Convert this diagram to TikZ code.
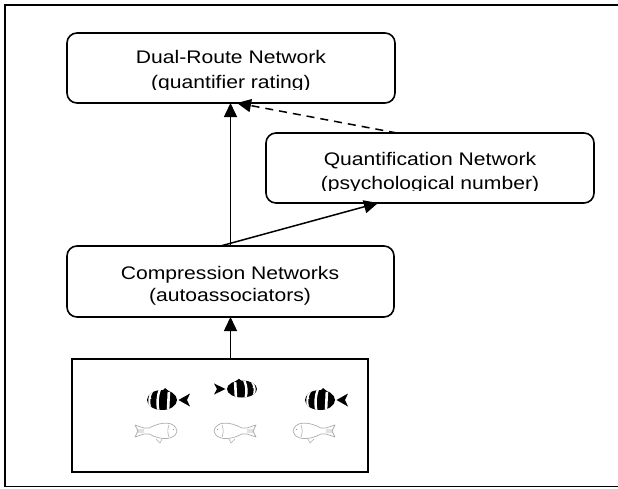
\documentclass[tikz,border=0pt]{standalone}
\usepackage{fontspec}
\setmainfont{Liberation Sans}[FakeStretch=1.16]
\usetikzlibrary{arrows.meta}

\tikzset{
  netbox/.style={draw, rounded corners=10pt, line width=1.6pt, inner sep=0pt, outer sep=0pt},
  stimbox/.style={draw, line width=1.6pt, inner sep=0pt, outer sep=0pt},
  netlabel/.style={anchor=base, inner sep=0pt, font=\fontsize{18.2}{24}\selectfont},
  flow/.style={line width=1.5pt, -{Triangle[length=14pt,width=13pt]}},
  feedback/.style={flow, dash pattern=on 8pt off 6pt},
  % dark striped fish, head on the left
  pics/stripyfish/.style={code={
    \begin{scope}
      \clip (14,0) ellipse [x radius=15, y radius=10];
      \fill (-2,-11) rectangle (30,11);
      \draw[white, line width=2pt] (6,-11) to[bend right=35] (4,11);
      \draw[white, line width=2.4pt] (12,-11) to[bend right=15] (10.5,11);
      \draw[white, line width=2.6pt] (21,-11) -- (20,11);
    \end{scope}
    \fill (14,-9) -- (17,-12) -- (22,-8) -- cycle;
    \fill (30.5,0) -- (42,-6.5) -- (39,0) -- (42,6.5) -- cycle;
    \fill[white] (2.5,-2) circle [radius=1];
  }},
  % pale outlined fish, head on the left
  pics/palefish/.style={code={
    \draw[black!32, line width=0.7pt, line join=round]
      (0,0) .. controls (2,-10) and (15,-10) .. (28,-3) -- (33,-3) -- (42,-6)
      -- (39,0) -- (42,6) -- (33,3) -- (28,3) .. controls (15,10) and (2,9) .. (0,0);
    \draw[black!32, line width=0.6pt] (8,-6) to[bend left=20] (8,6)
      (15,8) -- (17,12) -- (21,8) (33,-1) -- (40,-1) (33,1) -- (40,1);
    \fill[black!40] (3.5,-1.5) circle [radius=0.7];
  }}
}

\begin{document}
\begin{tikzpicture}[x=1pt, y=-1pt]
  \useasboundingbox (0,0) rectangle (618,488);
  % outer frame
  \draw[line width=1.6pt] (4.7,4.7) rectangle (619,486.3);

  % network boxes
  \node[netbox, minimum width=328pt, minimum height=70pt] (dual)  at (231,68)    {};
  \node[netbox, minimum width=328pt, minimum height=70pt] (quant) at (430,168)   {};
  \node[netbox, minimum width=327pt, minimum height=71pt] (comp)  at (230.5,281.5) {};
  \node[stimbox, minimum width=296pt, minimum height=113pt] (stim) at (220,415.5) {};

  % labels
  \node[netlabel] (dualA) at (231,63.5) {Dual-Route Network};
  \begin{scope}
    \clip (60,70) rectangle (400,89.5);
    \node[netlabel] (dualB) at (231,88) {(quantifier rating)};
  \end{scope}
  \node[netlabel] (quantA) at (430,165) {Quantification Network};
  \begin{scope}
    \clip (260,170) rectangle (600,190.5);
    \node[netlabel] (quantB) at (430,189.5) {(psychological number)};
  \end{scope}
  \node[netlabel] (compA) at (230,279.5) {Compression Networks};
  \node[netlabel] (compB) at (230,301) {(autoassociators)};

  % fish stimuli
  \pic at (148,400) {stripyfish};
  \pic[xscale=-1, yscale=0.85] at (256,389) {stripyfish};
  \pic at (306,400) {stripyfish};
  \pic[xscale=-1] at (177,431) {palefish};
  \pic at (214,431) {palefish};
  \pic at (293,431) {palefish};

  % connectors
  \draw[flow] (stim.north -| comp.south) -- (comp.south);
  \draw[flow] (comp.north) -- (comp.north |- dual.south);
  \draw[flow] ([xshift=-10pt]comp.north) -- ([xshift=-52pt]quant.south);
  \draw[feedback] ([xshift=-33pt]quant.north) -- ([xshift=6pt]dual.south);
\end{tikzpicture}
\end{document}
